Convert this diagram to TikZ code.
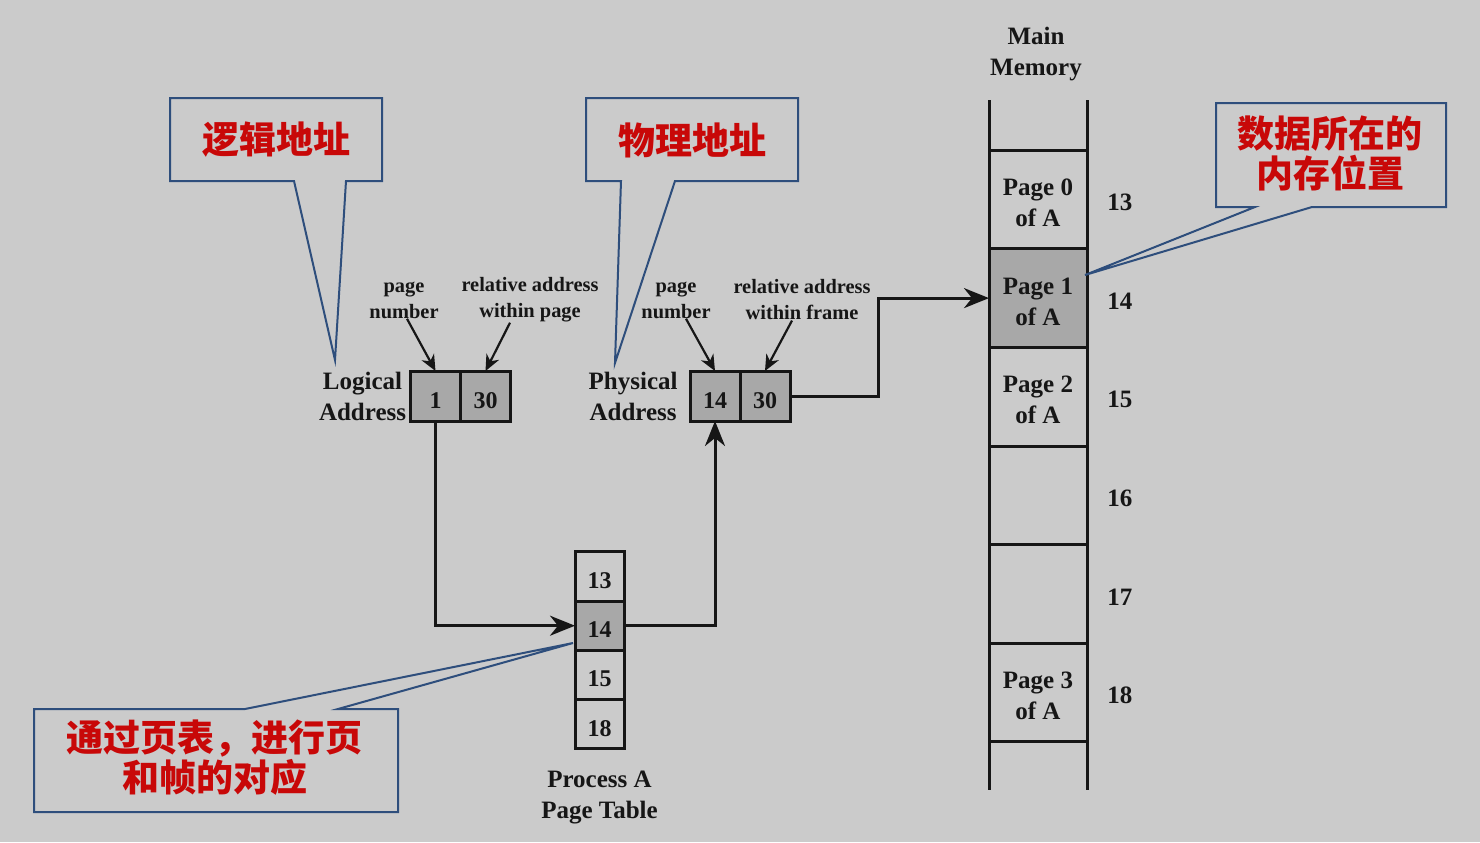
\documentclass[tikz,border=0pt]{standalone}
\usepackage{fontspec}
\setmainfont{Liberation Serif}
\newfontfamily\cjk{Noto Sans CJK SC}
\usetikzlibrary{positioning,arrows.meta}

\definecolor{bgc}{RGB}{203,203,203}
\definecolor{ink}{RGB}{22,22,22}
\definecolor{shade}{RGB}{168,168,168}
\definecolor{calloutblue}{RGB}{46,78,124}
\definecolor{calloutred}{RGB}{200,8,8}

\tikzset{
    cell/.style={draw=ink, line width=1.5pt, outer sep=0pt, inner sep=0pt,
        text=ink, text height=12pt, text depth=0pt,
        font=\bfseries\fontsize{12}{14}\selectfont},
    addr/.style={cell, minimum width=25pt, minimum height=25pt, fill=shade},
    ptcell/.style={cell, minimum width=24.5pt, minimum height=24.6pt},
    memcell/.style={cell, minimum width=49pt, minimum height=49.3pt},
    pagetext/.style={label={[lbl, yshift=-1.7pt]center:#1}},
    lbl/.style={text=ink, align=center, inner sep=0pt,
        font=\bfseries\fontsize{12.5}{15.5}\selectfont},
    small/.style={text=ink, align=center, inner sep=0pt,
        font=\bfseries\fontsize{10.2}{13}\selectfont},
    conn/.style={draw=ink, line width=1.5pt,
        -{Stealth[length=12.5pt,width=10pt,inset=4pt]}},
    ptr/.style={draw=ink, line width=1.1pt,
        -{Stealth[length=8pt,width=7pt,inset=2.5pt]}},
    callout/.style={draw=calloutblue, line width=1pt, line join=miter},
    ctext/.style={text=calloutred, align=center, inner sep=0pt,
        font=\cjk\bfseries\fontsize{18.5}{20}\selectfont}
}

\begin{document}
\begin{tikzpicture}[x=0.5pt, y=-0.5pt]
    % background and page size
    \fill[bgc] (0,0) rectangle (1480,842);
    \useasboundingbox (0,0) rectangle (1480,842);

    % Logical address
    \node[addr] (la1) at (435.5,396) {1};
    \node[addr, right=0pt of la1] (la2) {30};
    \node[lbl, left=2pt of la1] (lalbl) {Logical\\Address};
    \node[small] (pn1) at (404,300) {page\\number};
    \node[small] (rw1) at (530,300) {relative address\\within page};
    \draw[ptr] ([xshift=1.5pt]pn1.south) -- (la1.north);
    \draw[ptr] ([xshift=-10pt]rw1.south) -- (la2.north);

    % Physical address
    \node[addr] (pa1) at (715,396) {14};
    \node[addr, right=0pt of pa1] (pa2) {30};
    \node[lbl, left=6pt of pa1] (palbl) {Physical\\Address};
    \node[small] (pn2) at (676,300) {page\\number};
    \node[small] (rw2) at (802,300) {relative address\\within frame};
    \draw[ptr] ([xshift=5pt]pn2.south) -- (pa1.north);
    \draw[ptr] ([xshift=-5pt]rw2.south) -- (pa2.north);

    % Process A page table
    \node[ptcell] (pt13) at (599.5,576.5) {13};
    \node[ptcell, fill=shade, below=0pt of pt13] (pt14) {14};
    \node[ptcell, below=0pt of pt14] (pt15) {15};
    \node[ptcell, below=0pt of pt15] (pt18) {18};
    \node[lbl, below=11pt of pt18] (ptlbl) {Process A\\Page Table};

    % Main memory
    \node[lbl] (mmlbl) at (1036,54) {Main\\Memory};
    \node[memcell, pagetext={Page 0\\of A}] (m13) at (1038,199.5) {};
    \node[memcell, fill=shade, pagetext={Page 1\\of A}, below=0pt of m13] (m14) {};
    \node[memcell, pagetext={Page 2\\of A}, below=0pt of m14] (m15) {};
    \node[memcell, below=0pt of m15] (m16) {};
    \node[memcell, below=0pt of m16] (m17) {};
    \node[memcell, pagetext={Page 3\\of A}, below=0pt of m17] (m18) {};
    \draw[ink, line width=1.5pt] (m13.north west) -- ++(0,-50);
    \draw[ink, line width=1.5pt] (m13.north east) -- ++(0,-50);
    \draw[ink, line width=1.5pt] (m18.south west) -- ++(0,48);
    \draw[ink, line width=1.5pt] (m18.south east) -- ++(0,48);
    \foreach \f in {13,...,18}
        \node[lbl, right=10pt of m\f, yshift=-1.5pt] (n\f) {\f};

    % connectors
    \draw[conn] (la1.south) |- (pt14.west);
    \draw[conn] (pt14.east) -| (pa1.south);
    \draw[conn] (pa2.east) -- ++(88,0) |- (m14.west);

    % callouts
    \draw[callout] (170,98) -- (382,98) -- (382,181) -- (346,181)
        -- (335,360) -- (294,181) -- (170,181) -- cycle;
    \node[ctext] (c1) at (276,140) {逻辑地址};

    \draw[callout] (586,98) -- (798,98) -- (798,181) -- (675,181)
        -- (615,363) -- (621,181) -- (586,181) -- cycle;
    \node[ctext] (c2) at (692,140) {物理地址};

    \draw[callout] (1216,103) -- (1446,103) -- (1446,207) -- (1312,207)
        -- (1085,275) -- (1255,207) -- (1216,207) -- cycle;
    \node[ctext] (c3) at (1330,153) {数据所在的\\内存位置};

    \draw[callout] (34,709) -- (245,709) -- (573,643) -- (338,709)
        -- (398,709) -- (398,812) -- (34,812) -- cycle;
    \node[ctext] (c4) at (215,758) {通过页表，进行页\\和帧的对应};
\end{tikzpicture}
\end{document}
